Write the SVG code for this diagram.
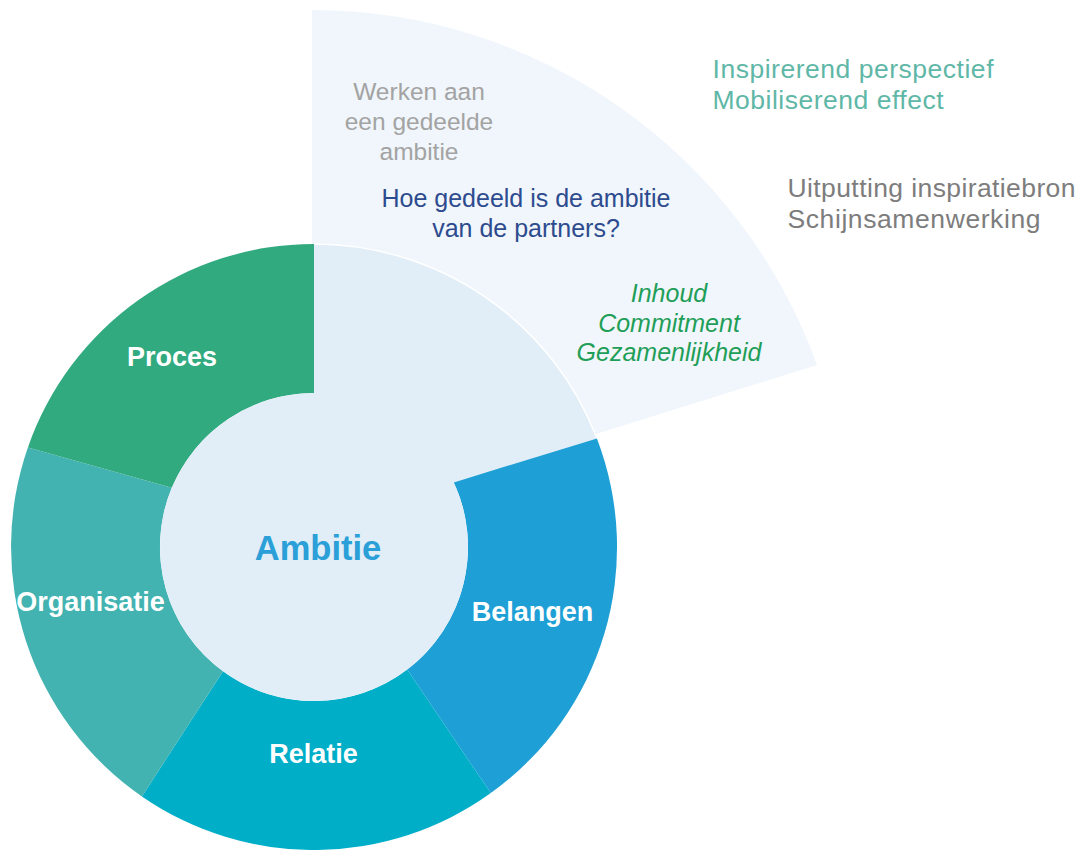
<svg xmlns="http://www.w3.org/2000/svg" width="1084" height="850" viewBox="0 0 1084 850">
<style>
text{font-family:"Liberation Sans",Arial,Helvetica,sans-serif}
.lbl{font-size:27px;font-weight:bold;fill:#ffffff;text-anchor:middle}
.mid{text-anchor:middle;font-size:25px}
.side{font-size:26.5px}
</style>
<rect x="0" y="0" width="1084" height="850" fill="#ffffff"/>
<g id="ambitie-expanded">
<path d="M312,547 L312,10 A537,537 0 0 1 817,365 L596,434 Z" fill="#f0f6fb"/>
<text class="mid" x="419" y="100" fill="#a3a3a3" style="font-size:24.5px">Werken aan</text>
<text class="mid" x="419" y="130" fill="#a3a3a3" style="font-size:24.5px">een gedeelde</text>
<text class="mid" x="419" y="160" fill="#a3a3a3" style="font-size:24.5px">ambitie</text>
<text class="mid" x="526" y="207" fill="#2d4b8e">Hoe gedeeld is de ambitie</text>
<text class="mid" x="526" y="237" fill="#2d4b8e">van de partners?</text>
<text class="mid" x="669" y="302" fill="#1f9e58" font-style="italic">Inhoud</text>
<text class="mid" x="669" y="332" fill="#1f9e58" font-style="italic">Commitment</text>
<text class="mid" x="669" y="361" fill="#1f9e58" font-style="italic">Gezamenlijkheid</text>
</g>
<g id="kansen">
<text class="side" x="712.5" y="78" fill="#5fb7a7" textLength="281" lengthAdjust="spacing">Inspirerend perspectief</text>
<text class="side" x="712.5" y="109" fill="#5fb7a7" textLength="231" lengthAdjust="spacing">Mobiliserend effect</text>
</g>
<g id="risicos">
<text class="side" x="787.5" y="197" fill="#7d7d7d" textLength="288" lengthAdjust="spacing">Uitputting inspiratiebron</text>
<text class="side" x="787.5" y="228" fill="#7d7d7d" textLength="253" lengthAdjust="spacing">Schijnsamenwerking</text>
</g>
<g id="ambitie-segment">
<path d="M314,547 L314,244 A303,303 0 0 1 596.9,438.4 L453.8,482.4 Z" fill="#e1edf7"/>
<path d="M314,244 A303,303 0 0 1 596.9,438.4" fill="none" stroke="#ffffff" stroke-width="1.5"/>
</g>
<g id="belangen">
<path d="M596.9,438.4 A303,303 0 0 1 490.8,793.1 L407.2,669.6 A154,154 0 0 0 453.8,482.4 Z" fill="#1e9fd6"/>
<text class="lbl" x="532.5" y="621">Belangen</text>
</g>
<g id="relatie">
<path d="M490.8,793.1 A303,303 0 0 1 141.9,796.4 L223,671.3 A154,154 0 0 0 407.2,669.6 Z" fill="#00aec8"/>
<text class="lbl" x="313.5" y="763">Relatie</text>
</g>
<g id="organisatie">
<path d="M141.9,796.4 A303,303 0 0 1 27.9,447.4 L171.8,487.8 A154,154 0 0 0 223,671.3 Z" fill="#42b3b1"/>
<text class="lbl" x="90.5" y="611">Organisatie</text>
</g>
<g id="proces">
<path d="M27.9,447.4 A303,303 0 0 1 314,244 L314,393 A154,154 0 0 0 171.8,487.8 Z" fill="#31aa80"/>
<text class="lbl" x="172" y="366">Proces</text>
</g>
<g id="ambitie">
<circle cx="314" cy="547" r="154" fill="#e1edf7"/>
<text x="318" y="560" text-anchor="middle" font-size="34.5" font-weight="bold" fill="#2a9fd8">Ambitie</text>
</g>
<g id="connectors"/>
</svg>
